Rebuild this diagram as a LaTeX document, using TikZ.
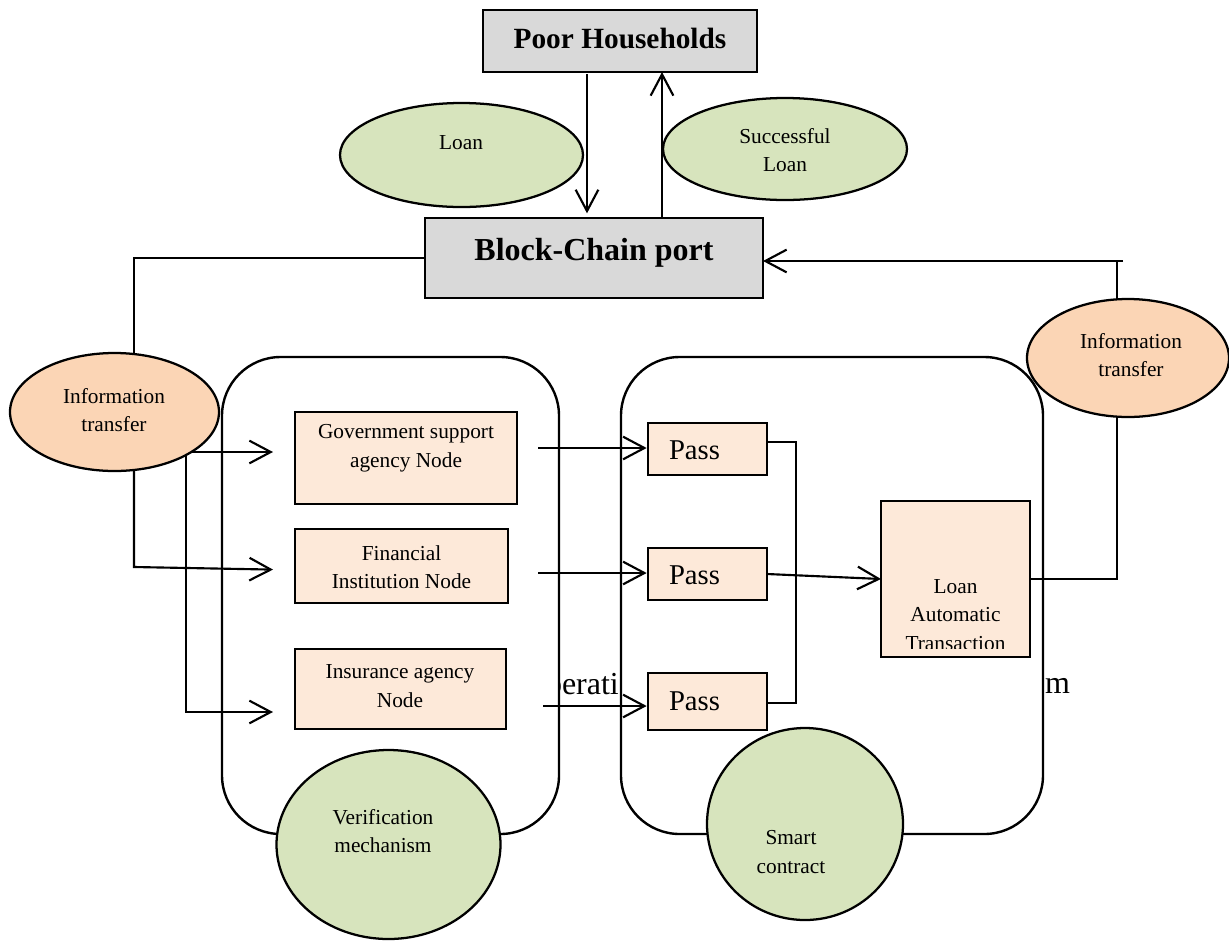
\documentclass[tikz,border=0pt]{standalone}
\usepackage{fontspec}
\setmainfont{Liberation Serif}
\usetikzlibrary{arrows.meta,shapes.geometric}
\definecolor{boxgray}{HTML}{D9D9D9}
\definecolor{leafgreen}{HTML}{D7E4BD}
\definecolor{peach}{HTML}{FBD5B5}
\definecolor{paleorange}{HTML}{FDE9D9}
\pgfdeclarelayer{fragments}
\pgfdeclarelayer{frames}
\pgfdeclarelayer{wires}
\pgfsetlayers{fragments,frames,wires,main}
\begin{document}
\begin{tikzpicture}[x=0.75pt,y=-0.75pt,
  every node/.style={inner sep=0pt,outer sep=0pt},
  graybox/.style={draw,line width=1.6pt,fill=boxgray},
  agentbox/.style={draw,line width=1.4pt,fill=paleorange},
  greenoval/.style={ellipse,draw,line width=1.7pt,fill=leafgreen},
  peachoval/.style={ellipse,draw,line width=1.7pt,fill=peach},
  frame/.style={draw,line width=1.8pt,fill=white,rounded corners=44pt},
  lbl/.style={font=\fontsize{16}{21.4}\selectfont,align=center},
  passlbl/.style={font=\fontsize{21.5}{26}\selectfont},
  headlbl/.style={font=\bfseries\fontsize{#1}{#1}\selectfont},
  wire/.style={line width=1.6pt},
  arr/.style={wire,-{Straight Barb[length=16pt,width=17pt]}}]
\useasboundingbox (0,0) rectangle (1229,940);

% ---- shapes ----
\node[graybox,minimum width=274*0.75pt,minimum height=62*0.75pt] (ph) at (620,41) {};
\node[graybox,minimum width=338*0.75pt,minimum height=80*0.75pt] (bc) at (594,258) {};
\node[greenoval,minimum width=243*0.75pt,minimum height=104*0.75pt] (loan) at (461.5,155) {};
\node[greenoval,minimum width=244*0.75pt,minimum height=102*0.75pt] (succ) at (785,149) {};
\node[peachoval,minimum width=209*0.75pt,minimum height=118*0.75pt] (infoL) at (114.5,412) {};
\node[peachoval,minimum width=202*0.75pt,minimum height=118*0.75pt] (infoR) at (1128,358) {};
\node[agentbox,minimum width=222*0.75pt,minimum height=92*0.75pt] (gov) at (406,458) {};
\node[agentbox,minimum width=213*0.75pt,minimum height=74*0.75pt] (fin) at (401.5,566) {};
\node[agentbox,minimum width=211*0.75pt,minimum height=80*0.75pt] (ins) at (400.5,689) {};
\node[agentbox,minimum width=119*0.75pt,minimum height=52*0.75pt] (pass1) at (707.5,449) {};
\node[agentbox,minimum width=119*0.75pt,minimum height=52*0.75pt] (pass2) at (707.5,574) {};
\node[agentbox,minimum width=119*0.75pt,minimum height=57*0.75pt] (pass3) at (707.5,701.5) {};
\node[agentbox,minimum width=149*0.75pt,minimum height=156*0.75pt] (lat) at (955.5,579) {};
\node[greenoval,minimum width=224*0.75pt,minimum height=189*0.75pt] (ver) at (388.5,844.5) {};
\node[greenoval,minimum width=196*0.75pt,minimum height=192*0.75pt] (smart) at (805,824) {};

% ---- labels ----
\node[headlbl=22] (ph-t) at (620,38) {Poor Households};
\node[headlbl=24] (bc-t) at (594,253) {Block-Chain port};
\node[lbl] (loan-t) at (461,143) {Loan};
\node[lbl] (succ-t) at (785,150) {Successful\\Loan};
\node[lbl] (infoL-t) at (114,410) {Information\\transfer};
\node[lbl] (infoR-t) at (1131,355) {Information\\transfer};
\node[lbl] (gov-t) at (406,448) {Government support\\agency Node};
\node[lbl] (fin-t) at (401.5,567) {Financial\\Institution Node};
\node[lbl] (ins-t) at (400,686) {Insurance agency\\Node};
\node[passlbl] (pass1-t) at (694.5,450) {Pass};
\node[passlbl] (pass2-t) at (694.5,575) {Pass};
\node[passlbl] (pass3-t) at (694.5,701) {Pass};
\begin{scope}
  % the last line of this text box runs past its lower margin
  \clip (881,501) rectangle (1030,648.5);
  \node[lbl] (lat-t) at (955.5,615) {Loan\\Automatic\\Transaction};
\end{scope}
\node[lbl] (ver-t) at (383,831) {Verification\\mechanism};
\node[lbl] (smart-t) at (791,852) {Smart\\contract};

% ---- text lying behind the two frames ----
\begin{pgfonlayer}{fragments}
  \node[font=\fontsize{24}{24}\selectfont,anchor=base west] (frag1) at (546,694) {perati};
  \node[font=\fontsize{24}{24}\selectfont,anchor=base west] (frag2) at (1045,693) {m};
\end{pgfonlayer}

% ---- rounded frames ----
\begin{pgfonlayer}{frames}
  \path[frame] (222,357) rectangle (559,834);
  \path[frame] (621,357) rectangle (1043,834);
\end{pgfonlayer}

% ---- connectors ----
\begin{pgfonlayer}{wires}
  \coordinate (dnx) at (587,0);
  \coordinate (upx) at (662,0);
  \draw[arr,shorten <=1.5pt,shorten >=3.5pt] (dnx |- ph.south) -- (dnx |- bc.north);
  \draw[arr] (upx |- bc.north) -- (upx |- ph.south);

  % left information transfer
  \coordinate (lvx) at (134,0);
  \coordinate (fy) at (0,567);
  \draw[wire] (bc.west) -| (lvx |- infoL.center);
  \draw[arr,shorten >=16.5pt] (lvx |- infoL.center) -- (lvx |- fy) -- ([yshift=-3pt]fin.west);
  \coordinate (g1) at (150,452);
  \draw[arr,shorten >=16.5pt] (g1) -- (g1 -| gov.west);
  \coordinate (v3) at (186,430);
  \coordinate (i3) at (186,712);
  \draw[arr,shorten >=16.5pt] (v3) -- (i3) -- (i3 -| ins.west);

  % into the pass boxes
  \coordinate (s1) at (538,448);
  \coordinate (s2) at (538,573);
  \coordinate (s3) at (543,706);
  \draw[arr,shorten >=1pt] (s1) -- (s1 -| pass1.west);
  \draw[arr,shorten >=1pt] (s2) -- (s2 -| pass2.west);
  \draw[arr,shorten >=1pt] (s3) -- (s3 -| pass3.west);

  % pass boxes to the automatic transaction
  \draw[wire] ([yshift=5.25pt]pass1.east) -| ([xshift=21.75pt,yshift=-1.1pt]pass3.east) -- ([yshift=-1.1pt]pass3.east);
  \draw[arr] (pass2.east) -- (lat.west);

  % right information transfer back to the port
  \coordinate (rv) at (1117,579);
  \coordinate (rt) at (1117,261);
  \coordinate (rtx) at (1123,261);
  \draw[wire] ([xshift=-3pt]lat.east) -- (rv) -- (rt);
  \draw[arr] (rtx) -- (rtx -| bc.east);
\end{pgfonlayer}
\end{tikzpicture}
\end{document}
